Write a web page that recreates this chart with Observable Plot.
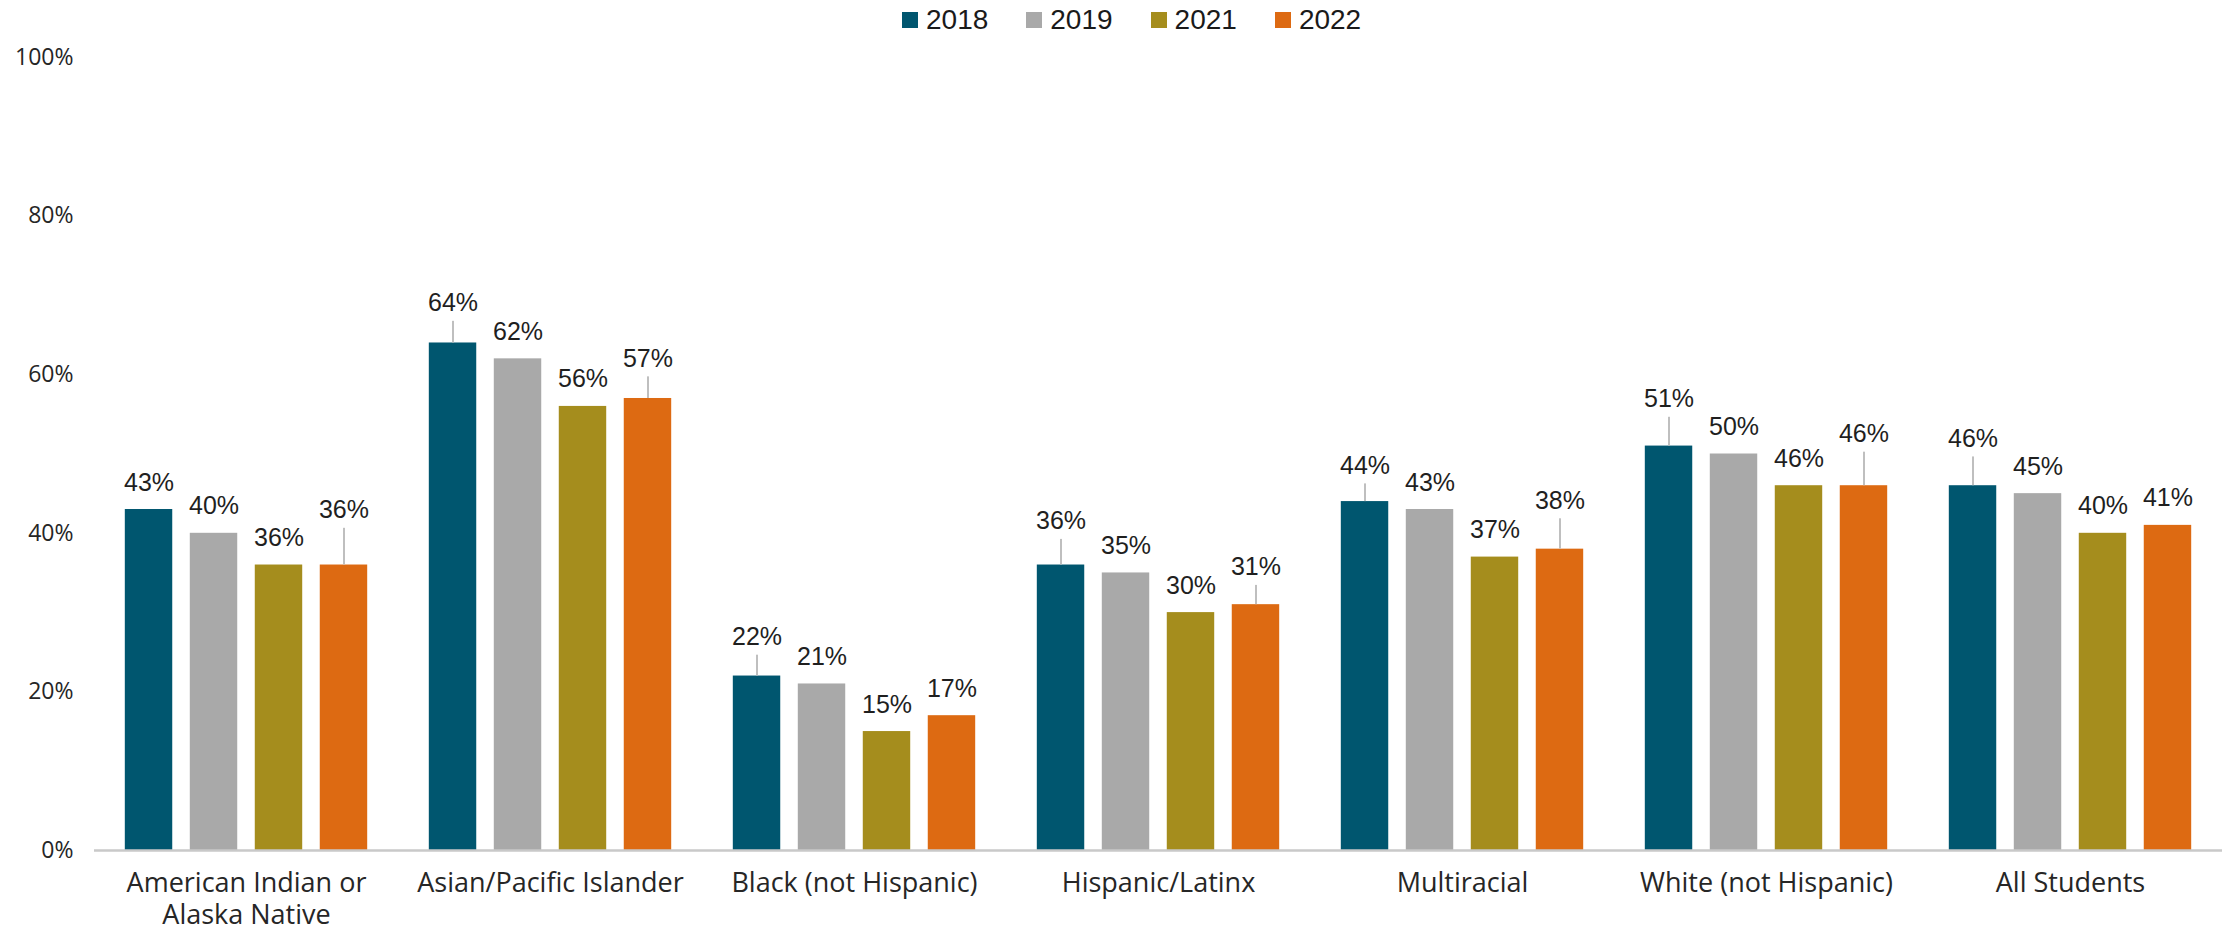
<!DOCTYPE html>
<html><head><meta charset="utf-8">
<script src="https://cdn.jsdelivr.net/npm/d3@7"></script>
<script src="https://cdn.jsdelivr.net/npm/@observablehq/plot@0.6"></script>
<style>
html,body{margin:0;padding:0;background:#fff;}
#legend{height:40px;width:2226px;overflow:hidden;}
#legend .lg-swatches{margin:0 !important;padding-left:902px;height:40px;min-height:40px !important;display:flex;align-items:center;font-family:"Liberation Sans",Arial,sans-serif !important;font-size:28px !important;color:#1a1a1a;}
#legend .lg-swatch{margin-right:38px !important;}
#legend .lg-swatch > svg{margin-right:8px !important;}
</style>
</head><body>
<div id="legend"></div>
<div id="chart"></div>
<script>
const groups = ["American Indian or\nAlaska Native", "Asian/Pacific Islander", "Black (not Hispanic)", "Hispanic/Latinx", "Multiracial", "White (not Hispanic)", "All Students"];
const years = ["2018", "2019", "2021", "2022"];
const v2018 = [43, 64, 22, 36, 44, 51, 46];
const v2019 = [40, 62, 21, 35, 43, 50, 45];
const v2021 = [36, 56, 15, 30, 37, 46, 40];
const v2022 = [36, 57, 17, 31, 38, 46, 41];
// label lift above the default label position (percentage points), where the original has leader lines
const lift2018 = [0, 1.6, 1.5, 2.1, 1.1, 2.5, 2.5];
const lift2019 = [0, 0, 0, 0, 0, 0, 0];
const lift2021 = [0, 0, 0, 0, 0, 0, 0];
const lift2022 = [3.5, 1.6, 0, 1.3, 2.7, 3.1, 0];
const yTicks = [0, 20, 40, 60, 80, 100];
const colors = ["#00566f", "#a9a9a9", "#a58d1d", "#dd6a12"];

const series = [v2018, v2019, v2021, v2022];
const lifts = [lift2018, lift2019, lift2021, lift2022];
const rows = [];
groups.forEach((g, gi) => years.forEach((y, yi) => {
  rows.push({group: g, year: y, value: series[yi][gi], lift: lifts[yi][gi]});
}));
const lifted = rows.filter(d => d.lift > 0);

const W = 2226, H = 889;
const labelFont = '"Liberation Sans", Arial, sans-serif';
const axisFont = '"Open Sans", "DejaVu Sans", sans-serif';

const chart = Plot.plot({
  width: W,
  height: H,
  marginLeft: 94,
  marginRight: 4,
  marginTop: 17,
  marginBottom: 79,
  style: {background: "#fff", color: "#262626", overflow: "visible"},
  fx: {domain: groups, padding: 0, round: false, axis: null},
  x: {domain: years, paddingInner: 0.27, paddingOuter: 0.474, round: false, axis: null},
  y: {domain: [0, 100], axis: null},
  color: {domain: years, range: colors},
  marks: [
    Plot.barY(rows, {fx: "group", x: "year", y: "value", fill: "year"}),
    Plot.ruleY([0], {stroke: "#c9c9c9", strokeWidth: 2.5}),
    Plot.ruleX(lifted, {fx: "group", x: "year", y1: "value", y2: d => d.value + d.lift + 1.13, stroke: "#bfbfbf", strokeWidth: 2}),
    Plot.text(rows, {fx: "group", x: "year", y: d => d.value + d.lift, text: d => d.value + "%", dy: -27, lineAnchor: "middle", fontSize: 25, fontFamily: labelFont, fill: "#1f1f1f"}),
    Plot.axisY({ticks: yTicks, tickFormat: d => d + "%", tickSize: 0, tickPadding: 21, fontSize: 23, fontFamily: axisFont, fill: "#262626", label: null}),
    Plot.axisFx({anchor: "bottom", tickSize: 0, tickPadding: 19, fontSize: 27, fontFamily: axisFont, lineHeight: 1.17, fill: "#262626", label: null})
  ]
});
document.getElementById("chart").appendChild(chart);

const legend = Plot.legend({
  legend: "swatches",
  color: {type: "ordinal", domain: years, range: colors},
  swatchSize: 16,
  className: "lg"
});
document.getElementById("legend").appendChild(legend);
</script>
</body></html>
